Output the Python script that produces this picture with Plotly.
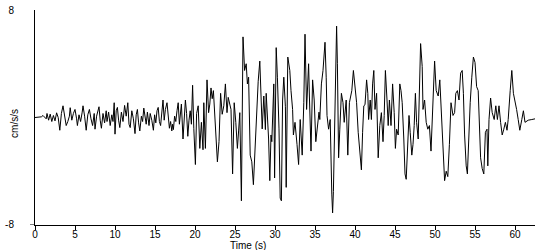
import plotly.graph_objects as go

# Time axis (s) and ground acceleration (cm/s/s)
time_s = [
    0.0, 0.8, 1.0, 1.2, 1.4, 1.5, 1.7, 1.9, 2.1, 2.3,
    2.5, 2.7, 2.9, 3.1, 3.3, 3.5, 3.7, 3.9, 4.1, 4.3,
    4.4, 4.6, 4.8, 5.0, 5.2, 5.3, 5.5, 5.7, 5.9, 6.0,
    6.2, 6.4, 6.6, 6.8, 7.0, 7.2, 7.4, 7.5, 7.7, 7.85,
    8.0, 8.15, 8.3, 8.5, 8.7, 8.9, 9.0, 9.2, 9.4, 9.6,
    9.75, 9.9, 10.0, 10.15, 10.3, 10.45, 10.6, 10.8, 11.0, 11.2,
    11.4, 11.6, 11.75, 11.9, 12.1, 12.3, 12.5, 12.65, 12.8, 12.95,
    13.1, 13.3, 13.45, 13.6, 13.75, 13.9, 14.05, 14.25, 14.4, 14.6,
    14.8, 14.95, 15.1, 15.25, 15.4, 15.55, 15.7, 15.85, 16.0, 16.15,
    16.3, 16.5, 16.65, 16.8, 16.95, 17.1, 17.2, 17.3, 17.45, 17.6,
    17.75, 17.9, 18.05, 18.2, 18.3, 18.5, 18.65, 18.8, 18.95, 19.1,
    19.25, 19.4, 19.55, 19.7, 19.85, 19.95, 20.05, 20.2, 20.4, 20.6,
    20.8, 21.0, 21.1, 21.3, 21.5, 21.7, 21.85, 22.0, 22.15, 22.3,
    22.5, 22.65, 22.8, 23.0, 23.2, 23.4, 23.6, 23.8, 24.0, 24.15,
    24.3, 24.5, 24.7, 24.9, 25.1, 25.3, 25.45, 25.6, 25.8, 26.0,
    26.2, 26.4, 26.55, 26.7, 26.9, 27.1, 27.3, 27.5, 27.65, 27.9,
    28.1, 28.25, 28.4, 28.6, 28.8, 28.9, 29.1, 29.2, 29.35, 29.5,
    29.6, 29.85, 29.95, 30.15, 30.3, 30.5, 30.65, 30.8, 30.95, 31.1,
    31.3, 31.4, 31.6, 31.85, 32.0, 32.2, 32.3, 32.5, 32.75, 32.95,
    33.15, 33.4, 33.6, 33.75, 33.95, 34.2, 34.3, 34.5, 34.7, 34.9,
    35.1, 35.3, 35.5, 35.6, 35.8, 36.0, 36.25, 36.4, 36.5, 36.7,
    36.9, 37.1, 37.2, 37.3, 37.5, 37.7, 37.8, 37.95, 38.1, 38.3,
    38.5, 38.65, 38.9, 39.1, 39.3, 39.6, 39.8, 40.0, 40.2, 40.4,
    40.6, 40.8, 40.95, 41.1, 41.25, 41.45, 41.6, 41.7, 41.9, 42.05,
    42.2, 42.35, 42.5, 42.7, 42.9, 43.1, 43.3, 43.5, 43.65, 43.8,
    44.0, 44.15, 44.3, 44.5, 44.7, 44.9, 45.05, 45.2, 45.4, 45.6,
    45.75, 45.9, 46.1, 46.25, 46.4, 46.6, 46.75, 46.9, 47.1, 47.25,
    47.4, 47.55, 47.7, 47.9, 48.1, 48.2, 48.4, 48.5, 48.7, 48.9,
    49.1, 49.3, 49.5, 49.75, 49.95, 50.15, 50.4, 50.6, 50.8, 51.0,
    51.2, 51.4, 51.6, 51.8, 52.0, 52.25, 52.45, 52.6, 52.8, 53.0,
    53.2, 53.4, 53.55, 53.7, 53.9, 54.05, 54.2, 54.4, 54.6, 54.8,
    55.0, 55.2, 55.4, 55.55, 55.7, 55.9, 56.1, 56.3, 56.5, 56.6,
    56.75, 56.95, 57.15, 57.4, 57.6, 57.8, 58.0, 58.2, 58.4, 58.6,
    58.8, 59.0, 59.15, 59.4, 59.6, 59.8, 60.0, 60.2, 60.4, 60.6,
    60.85, 61.05, 61.25, 61.65, 62.1, 62.5,
]

accel = [
    0.0, 0.05, 0.15, 0.0, -0.1, 0.3, -0.2, 0.25, -0.3, 0.15,
    -0.25, 0.35, 0.0, -0.95, 0.3, 0.87, 0.2, -0.6, -0.3, 0.1,
    0.73, -0.2, 0.3, 0.6, -0.1, -0.6, 0.2, -0.3, 0.4, 0.87,
    0.1, -0.95, 0.2, 0.6, -0.1, -0.6, 0.3, -0.87, 0.1, 0.5,
    0.8, -0.2, -0.8, 0.3, -0.4, 0.5, -0.3, 0.4, -0.6, 0.2,
    -0.3, 1.1, -1.24, 0.5, 0.75, -0.2, -0.75, 0.4, -0.3, 0.9,
    0.1, 1.1, -0.5, -0.75, 0.5, -0.1, -1.2, 0.2, 0.6, -0.4,
    -1.0, 0.1, -0.3, 0.7, 0.0, -0.5, 0.4, -0.6, 0.3, -0.2,
    -0.95, 0.2, -0.4, 0.5, 0.75, -0.3, -0.6, 0.2, 1.3, -0.2,
    0.6, 1.1, 0.1, -0.8, -0.3, -1.0, -0.5, -0.9, 0.1, -0.3,
    0.5, 1.1, -0.5, 0.4, 1.0, -1.6, -0.3, 1.3, 0.3, -1.4,
    -0.2, 0.5, -0.5, 2.4, -0.8, -2.0, -3.5, 0.3, 0.87, -2.3,
    -0.36, -2.4, 1.1, -2.3, 2.8, 0.36, 1.0, 2.2, 1.4, 2.0,
    -0.4, -1.5, -3.3, -1.8, 1.8, 0.24, 0.87, 2.5, 0.36, 1.5,
    1.1, 0.6, -4.2, 1.1, -0.36, -2.3, -1.0, 0.36, -6.2, 6.0,
    3.5, 4.0, 2.5, 3.0, -2.8, -3.3, -5.0, -2.0, -0.4, 2.7,
    4.2, 2.0, -0.85, 1.6, -0.9, 1.8, -0.15, -1.6, -4.7, -1.3,
    -1.8, 2.5, -4.5, 5.2, 3.0, -0.85, -6.0, -6.2, 1.3, 3.0,
    0.8, -5.2, 4.5, 3.5, 2.0, 0.6, -1.3, -0.36, -2.0, -3.5,
    -0.15, -2.8, 1.1, 6.2, 0.6, 4.0, 1.6, -2.5, 2.8, 1.3,
    -1.8, -0.4, 0.4, -0.15, 2.5, 3.5, 5.6, 3.0, 0.15, -0.87,
    -0.15, -5.7, -7.1, -5.5, 2.3, 6.8, 4.0, -3.0, -0.87, 1.8,
    1.1, -0.36, 1.3, -2.8, 1.1, 2.0, 3.5, 2.2, 1.1, -1.1,
    -2.3, -3.9, -1.1, 0.87, 0.95, 2.8, 1.8, -0.15, 1.3, -0.15,
    2.5, 3.5, 0.6, 1.8, -3.0, -0.6, 0.36, -1.8, 0.15, 3.5,
    1.3, -0.6, 1.3, -0.6, 2.5, 0.36, -2.3, -0.87, -1.3, 2.5,
    2.0, 1.1, -1.6, -4.2, -4.6, -1.1, 0.15, -1.1, -2.8, -2.0,
    -0.6, 1.8, -0.36, -1.6, 4.5, 5.5, 3.8, 0.6, 1.3, -0.36,
    -0.87, -0.6, -2.5, 2.0, 4.2, 2.0, 1.6, 2.8, 0.15, -2.8,
    -4.7, -4.0, -4.4, -2.0, 1.1, 0.15, 0.36, 1.8, 2.0, 1.3,
    3.3, 3.5, 1.8, -1.3, -3.6, -4.2, -1.8, 1.1, 3.0, 4.5,
    4.1, 2.3, 2.0, -0.15, -3.0, -3.8, -4.2, -1.1, -0.87, -3.6,
    -0.15, 1.45, 0.36, -0.15, 0.87, -0.15, 0.87, -0.36, -1.3, -0.87,
    -0.36, -0.95, -0.15, 2.0, 3.5, 1.8, 1.3, 0.6, -0.15, -0.95,
    -0.15, 0.5, -0.36, -0.2, -0.15, -0.1,
]
assert len(time_s) == len(accel)

x_ticks = [0, 5, 10, 15, 20, 25, 30, 35, 40, 45, 50, 55, 60]
y_ticks = [-8, 8]
x_title = "Time (s)"
y_title = "cm/s/s"

FONT = "Liberation Sans, Arial, sans-serif"

fig = go.Figure()
fig.add_trace(go.Scatter(
    x=time_s, y=accel, mode="lines",
    line=dict(color="black", width=1),
    hoverinfo="skip", showlegend=False,
))

fig.update_layout(
    width=550, height=250,
    margin=dict(l=35, r=15, t=5, b=25),
    paper_bgcolor="white", plot_bgcolor="white",
    font=dict(family=FONT, size=10, color="black"),
    xaxis=dict(
        range=[0, 62.5], tickvals=x_ticks, ticktext=[str(v) for v in x_ticks],
        showgrid=False, zeroline=False, showline=True, linecolor="black", linewidth=1,
        ticks="outside", ticklen=4, tickcolor="black", tickwidth=1,
        tickfont=dict(family=FONT, size=10, color="black"),
        ticklabelstandoff=-4,
    ),
    yaxis=dict(
        range=[-8.001, 8.001], tickvals=y_ticks, ticktext=[str(v) for v in y_ticks],
        showgrid=False, zeroline=False, showline=True, linecolor="black", linewidth=1,
        ticks="", tickfont=dict(family=FONT, size=10, color="black"),
        ticklabelstandoff=18, ticklabeloverflow="allow",
    ),
    shapes=[dict(type="line", xref="paper", yref="y", x0=-0.01, x1=0, y0=-8, y1=-8,
                 line=dict(color="black", width=1))],
    annotations=[
        dict(text=y_title, xref="paper", yref="paper", x=-0.04, y=0.47,
             xanchor="center", yanchor="middle", textangle=-90, showarrow=False,
             font=dict(family=FONT, size=10, color="black")),
        dict(text=x_title, xref="paper", yref="paper", x=0.426, y=-0.097,
             xanchor="center", yanchor="middle", showarrow=False,
             font=dict(family=FONT, size=10, color="black")),
    ],
)

fig.write_html("out.html")
